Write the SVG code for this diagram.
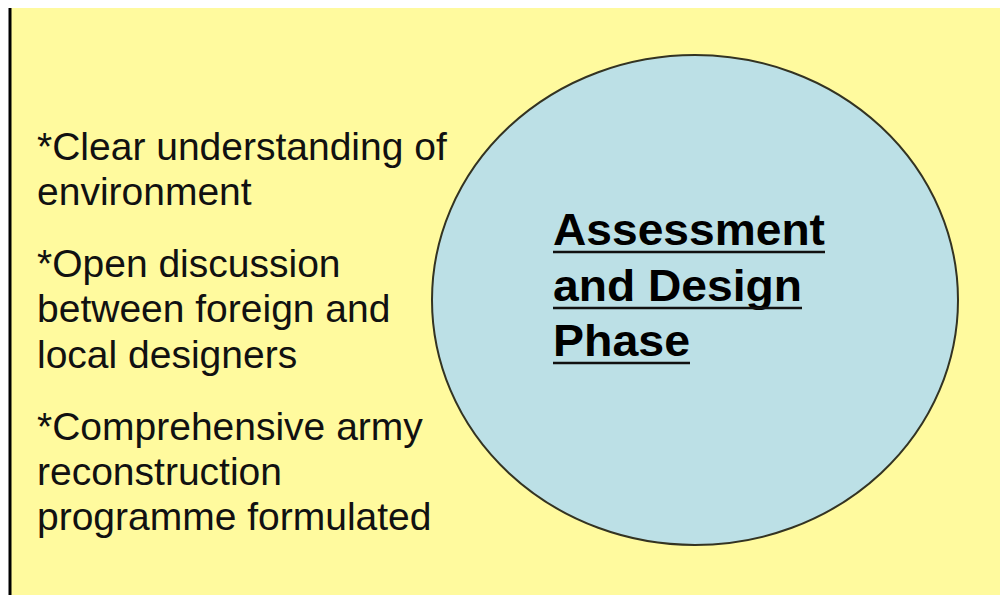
<svg xmlns="http://www.w3.org/2000/svg" width="1000" height="595" viewBox="0 0 1000 595">
<style>
.item{font-family:"Liberation Sans",Arial,sans-serif;font-size:39px;fill:#111}
.title{font-family:"Liberation Sans",Arial,sans-serif;font-size:44px;font-weight:bold;fill:#000}
.ul{stroke:#111;stroke-width:2.5}
</style>
<rect x="0" y="0" width="1000" height="595" fill="#ffffff"/>
<rect x="10" y="8" width="990" height="587" fill="#FFFA9E"/>
<line x1="10" y1="8" x2="10" y2="595" stroke="#000" stroke-width="3"/>
<g id="bullets">
<text class="item" x="37" y="160">*Clear understanding of</text>
<text class="item" x="37" y="205">environment</text>
<text class="item" x="37" y="277">*Open discussion</text>
<text class="item" x="37" y="322">between foreign and</text>
<text class="item" x="37" y="368">local designers</text>
<text class="item" x="37" y="440">*Comprehensive army</text>
<text class="item" x="37" y="485">reconstruction</text>
<text class="item" x="37" y="530">programme formulated</text>
</g>
<g id="phase">
<ellipse cx="695" cy="300" rx="263" ry="245" fill="#BCE0E6" stroke="#333322" stroke-width="2"/>
<text class="title" x="553" y="245" textLength="272" lengthAdjust="spacingAndGlyphs">Assessment</text>
<line class="ul" x1="553" y1="252" x2="825" y2="252"/>
<text class="title" x="553" y="301" textLength="249" lengthAdjust="spacingAndGlyphs">and Design</text>
<line class="ul" x1="553" y1="308" x2="802" y2="308"/>
<text class="title" x="553" y="356" textLength="137" lengthAdjust="spacingAndGlyphs">Phase</text>
<line class="ul" x1="553" y1="363" x2="690" y2="363"/>
</g>
</svg>
